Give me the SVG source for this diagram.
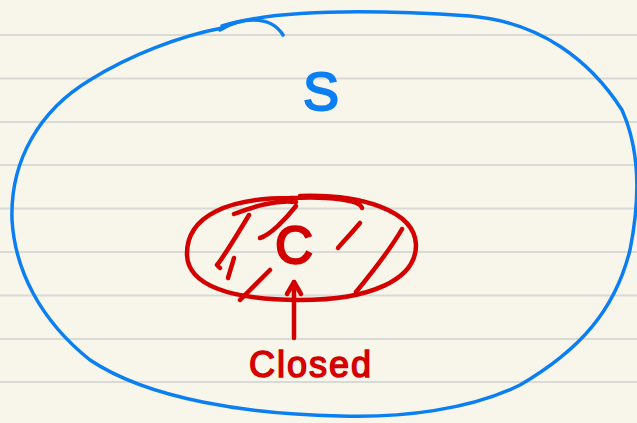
<svg xmlns="http://www.w3.org/2000/svg" width="637" height="423" viewBox="0 0 637 423">
<style>
.rule{stroke:#d9d9d6;stroke-width:2}
.blue{fill:none;stroke:#0b7ff2;stroke-width:3.5;stroke-linecap:round;stroke-linejoin:round}
.red{fill:none;stroke:#d40000;stroke-width:4.5;stroke-linecap:round;stroke-linejoin:round}
.redt{fill:#d40000;stroke:#d40000;font-family:"Liberation Sans",sans-serif}
</style>
<rect width="637" height="423" fill="#f8f6ea"/>
<g id="paper">
<line class="rule" x1="0" y1="35" x2="637" y2="35"/>
<line class="rule" x1="0" y1="78.5" x2="637" y2="78.5"/>
<line class="rule" x1="0" y1="122" x2="637" y2="122"/>
<line class="rule" x1="0" y1="165" x2="637" y2="165"/>
<line class="rule" x1="0" y1="208.5" x2="637" y2="208.5"/>
<line class="rule" x1="0" y1="252" x2="637" y2="252"/>
<line class="rule" x1="0" y1="295.5" x2="637" y2="295.5"/>
<line class="rule" x1="0" y1="339" x2="637" y2="339"/>
<line class="rule" x1="0" y1="382" x2="637" y2="382"/>
</g>
<g id="set-S">
<path class="blue" d="M222,26 C280,8 380,10 470,16 C540,22 590,60 622,110 C640,150 640,200 630,250 C615,310 580,350 520,385 C470,410 400,418 340,416 C250,414 150,400 90,360 C40,320 15,270 12,220 C10,160 40,110 90,80 C130,55 180,36 222,28"/>
<path class="blue" d="M220,30 C240,18 270,14 283,35"/>
<text x="321" y="110" text-anchor="middle" font-family="'Liberation Sans',sans-serif" font-size="54" fill="#0b7ff2" stroke="#0b7ff2" stroke-width="2">S</text>
</g>
<g id="set-C">
<path class="red" d="M300,196 C360,194 415,210 416,245 C416,280 370,300 300,300 C230,300 188,285 187,255 C186,215 230,198 290,198 C330,196 360,200 362,208"/>
<path class="red" d="M234,214 C255,206 275,200 296,202"/>
<path class="red" d="M249,215 C240,230 225,255 217,265 L220,268"/>
<path class="red" d="M234,258 L228,278"/>
<path class="red" d="M296,206 C285,220 270,235 260,238"/>
<path class="red" d="M360,223 C350,235 340,245 338,248"/>
<path class="red" d="M402,229 C390,250 370,275 356,292"/>
<path class="red" d="M270,270 C258,282 248,292 240,300"/>
<text class="redt" x="294" y="263" text-anchor="middle" font-size="52" stroke-width="2.5">C</text>
</g>
<g id="label">
<line class="red" x1="294" y1="282" x2="294" y2="338"/>
<path class="red" d="M287,294 L294,282 L301,294"/>
<text class="redt" x="311" y="377" text-anchor="middle" font-size="36" stroke-width="1.5" letter-spacing="2">Closed</text>
</g>
</svg>
